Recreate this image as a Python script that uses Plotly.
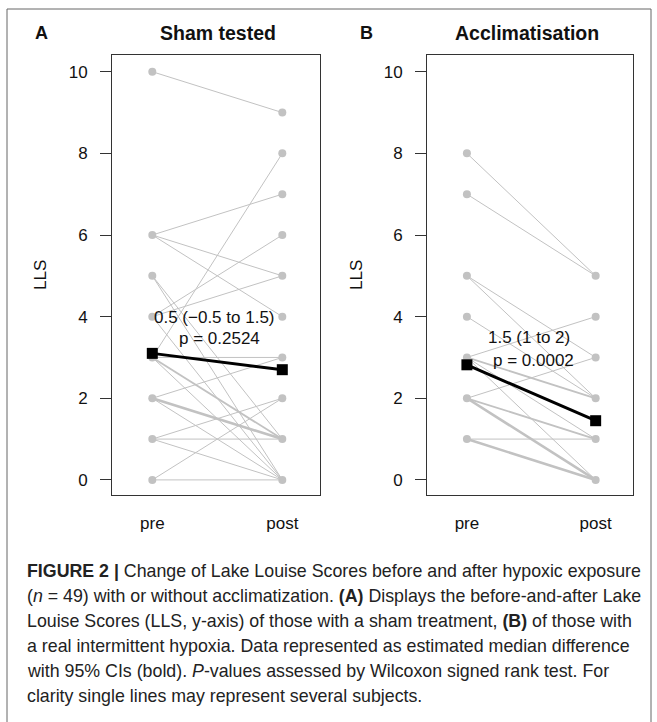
import plotly.graph_objects as go
from collections import Counter

# ---------------- data ----------------
time_labels = ["pre", "post"]
y_ticks = [0, 2, 4, 6, 8, 10]

# Panel A: Sham tested (pre score, post score) per subject line
sham_pre  = [10, 6, 6, 6, 5, 4, 4, 4, 3, 3, 3, 3, 2, 2, 2, 2, 1, 1, 1, 0, 0, 2, 3, 5]
sham_post = [ 9, 7, 5, 4, 0, 6, 5, 0, 8, 3, 1, 0, 3, 1, 1, 0, 2, 1, 0, 2, 0, 1, 1, 1]
sham_est_pre, sham_est_post = 3.1, 2.7
sham_text = ["0.5 (\u22120.5 to 1.5)", "p = 0.2524"]

# Panel B: Acclimatisation
accl_pre  = [8, 7, 5, 5, 4, 3, 3, 3, 3, 2, 2, 2, 2, 2, 2, 1, 1, 1, 1, 3]
accl_post = [5, 5, 3, 2, 2, 4, 2, 2, 0, 3, 1, 1, 0, 0, 0, 1, 0, 0, 0, 1]
accl_est_pre, accl_est_post = 2.82, 1.45
accl_text = ["1.5 (1 to 2)", "p = 0.0002"]

panel_letters = ["A", "B"]
panel_titles = ["Sham tested", "Acclimatisation"]
y_title = "LLS"

caption_lines = [
    "<b>FIGURE 2 |</b> Change of Lake Louise Scores before and after hypoxic exposure",
    "(<i>n</i> = 49) with or without acclimatization. <b>(A)</b> Displays the before-and-after Lake",
    "Louise Scores (LLS, y-axis) of those with a sham treatment, <b>(B)</b> of those with",
    "a real intermittent hypoxia. Data represented as estimated median difference",
    "with 95% CIs (bold). <i>P</i>-values assessed by Wilcoxon signed rank test. For",
    "clarity single lines may represent several subjects.",
]

# ---------------- layout helpers ----------------
W, H = 657, 722
def px(x):
    return x / W
def py(y):
    return 1 - y / H

FONT = "Liberation Sans, Arial, Helvetica, sans-serif"
GRAY = "#c2c2c2"
AX = "#333333"
TXT = "#111111"

fig = go.Figure()

panels = [
    dict(pre=sham_pre, post=sham_post, est=(sham_est_pre, sham_est_post), text=sham_text,
         xa="x", ya="y", t1=(1.48, 3.98), t2=(1.52, 3.46)),
    dict(pre=accl_pre, post=accl_post, est=(accl_est_pre, accl_est_post), text=accl_text,
         xa="x2", ya="y2", t1=(1.48, 3.48), t2=(1.52, 2.93)),
]

ann = []
for p in panels:
    counts = Counter(zip(p["pre"], p["post"]))
    for (a, b), c in counts.items():
        fig.add_trace(go.Scatter(
            x=[1, 2], y=[a, b], mode="lines",
            line=dict(color=GRAY, width=1.0 if c == 1 else (1.8 if c == 2 else 2.6)),
            hoverinfo="skip", showlegend=False, xaxis=p["xa"], yaxis=p["ya"]))
    pts_x = [1] * len(set(p["pre"])) + [2] * len(set(p["post"]))
    pts_y = sorted(set(p["pre"])) + sorted(set(p["post"]))
    fig.add_trace(go.Scatter(
        x=pts_x, y=pts_y, mode="markers",
        marker=dict(color=GRAY, size=8, symbol="circle"),
        hoverinfo="skip", showlegend=False, xaxis=p["xa"], yaxis=p["ya"]))
    fig.add_trace(go.Scatter(
        x=[1, 2], y=list(p["est"]), mode="lines+markers",
        line=dict(color="black", width=3),
        marker=dict(color="black", size=11, symbol="square"),
        showlegend=False, xaxis=p["xa"], yaxis=p["ya"]))
    for key, txt in zip(["t1", "t2"], p["text"]):
        ann.append(dict(x=p[key][0], y=p[key][1], xref=p["xa"], yref=p["ya"], text=txt,
                        xanchor="center", yanchor="middle", showarrow=False,
                        font=dict(size=17, family=FONT, color=TXT)))

axis_y = dict(range=[-0.37, 10.41], tickvals=y_ticks, ticks="outside", ticklen=11,
              tickcolor=AX, showgrid=False, zeroline=False, showline=True, mirror=True,
              linecolor=AX, linewidth=1, tickfont=dict(family=FONT, size=17, color=TXT),
              domain=[py(495), py(55)], ticklabelstandoff=9)
axis_x = dict(range=[0.69, 2.29], tickvals=[1, 2], ticktext=time_labels, ticks="",
              showgrid=False, zeroline=False, showline=True, mirror=True,
              linecolor=AX, linewidth=1, tickfont=dict(family=FONT, size=17, color=TXT),
              ticklabelstandoff=13)

fig.update_layout(
    width=W, height=H, margin=dict(l=0, r=0, t=0, b=0),
    paper_bgcolor="white", plot_bgcolor="white",
    xaxis=dict(axis_x, domain=[px(112), px(320)], anchor="y"),
    yaxis=dict(axis_y, anchor="x"),
    xaxis2=dict(axis_x, domain=[px(427), px(633)], anchor="y2"),
    yaxis2=dict(axis_y, anchor="x2"),
    font=dict(family=FONT, color=TXT),
)

# panel letters and titles
for letter, lx in zip(panel_letters, [41, 366]):
    ann.append(dict(x=px(lx), y=py(33), xref="paper", yref="paper", text="<b>%s</b>" % letter,
                    xanchor="center", yanchor="middle", showarrow=False,
                    font=dict(size=18, family=FONT, color=TXT)))
for title, tx in zip(panel_titles, [218, 527]):
    ann.append(dict(x=px(tx), y=py(33), xref="paper", yref="paper", text="<b>%s</b>" % title,
                    xanchor="center", yanchor="middle", showarrow=False,
                    font=dict(size=19.5, family=FONT, color=TXT)))
# y titles
for yx in [40, 356]:
    ann.append(dict(x=px(yx), y=py(275), xref="paper", yref="paper", text=y_title, textangle=-90,
                    xanchor="center", yanchor="middle", showarrow=False,
                    font=dict(size=17, family=FONT, color=TXT)))
# caption
for k, line in enumerate(caption_lines):
    ann.append(dict(x=px(25), y=py(571 + 25 * k), xref="paper", yref="paper", text=line,
                    xanchor="left", yanchor="middle", align="left", showarrow=False,
                    font=dict(size=17.8, family=FONT, color="#222")))

fig.update_layout(annotations=ann)

# outer frame
fig.add_shape(type="rect", xref="paper", yref="paper", x0=px(7), x1=px(651), y0=py(760), y1=py(9),
              line=dict(color="#666", width=1), fillcolor="rgba(0,0,0,0)", layer="below")

fig.write_html("out.html")
